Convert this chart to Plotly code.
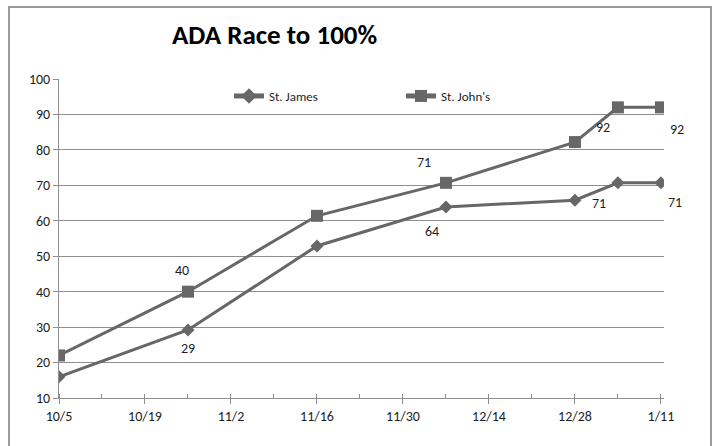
import plotly.graph_objects as go

# ---- data ----
dates = ["2009-10-05", "2009-10-26", "2009-11-16", "2009-12-07",
         "2009-12-28", "2010-01-04", "2010-01-11"]
st_james = [16, 29.2, 52.9, 63.9, 65.8, 70.7, 70.7]
st_johns = [22, 40, 61.4, 70.7, 82.2, 92, 92]
series_names = ["St. James", "St. John's"]
labeled_idx = [1, 3, 5, 6]
title_text = "ADA Race to 100%"

# ---- styling ----
W, H = 717, 446
L, T = 59, 79
R = W - 664
B = H - 398
FONT = "Carlito, Calibri, Lato, 'Open Sans', sans-serif"
LINE_COL = "#676767"
GRID_COL = "#8e8e8e"
TXT = "#1e1e1e"

fig = go.Figure()
fig.add_trace(go.Scatter(x=dates, y=st_james, name=series_names[0], mode="lines+markers",
                         line=dict(color=LINE_COL, width=3),
                         marker=dict(symbol="diamond", size=10, color=LINE_COL)))
fig.add_trace(go.Scatter(x=dates, y=st_johns, name=series_names[1], mode="lines+markers",
                         line=dict(color=LINE_COL, width=3),
                         marker=dict(symbol="square", size=12, color=LINE_COL)))

# data label offsets (pixels) for labeled points
james_shift = {1: (0, -19), 3: (-14, -25), 5: (-19, -21), 6: (14, -20)}
johns_shift = {1: (-6, 21), 3: (-22, 20), 5: (-15, -20), 6: (16, -22)}
ann = []
for i in labeled_idx:
    dx, dy = james_shift[i]
    ann.append(dict(x=dates[i], y=st_james[i], xref="x", yref="y", text=str(round(st_james[i])),
                    showarrow=False, xshift=dx, yshift=dy,
                    font=dict(family=FONT, size=14, color=TXT)))
    dx, dy = johns_shift[i]
    ann.append(dict(x=dates[i], y=st_johns[i], xref="x", yref="y", text=str(round(st_johns[i])),
                    showarrow=False, xshift=dx, yshift=dy,
                    font=dict(family=FONT, size=14, color=TXT)))

pw = W - L - R
ph = H - T - B
def px_x(p):
    return (p - L) / pw
def px_y(p):
    return (H - B - p) / ph

ann.append(dict(x=px_x(275), y=px_y(35), xref="paper", yref="paper", text="<b>" + title_text + "</b>",
                showarrow=False, xanchor="center", yanchor="middle",
                font=dict(family=FONT, size=27, color="#000000")))

fig.update_layout(
    width=W, height=H,
    margin=dict(l=L, r=R, t=T, b=B, pad=0),
    paper_bgcolor="white", plot_bgcolor="white",
    annotations=ann,
    showlegend=True,
    legend=dict(orientation="h", x=px_x(229), y=px_y(96), xanchor="left", yanchor="middle",
                font=dict(family=FONT, size=13, color=TXT),
                entrywidth=127, entrywidthmode="pixels", bgcolor="rgba(0,0,0,0)",
                itemsizing="constant", tracegroupgap=0),
    shapes=[dict(type="rect", xref="paper", yref="paper",
                 x0=px_x(9), x1=px_x(711), y0=px_y(470), y1=px_y(7),
                 line=dict(color="#9a9a9a", width=2), fillcolor="rgba(0,0,0,0)", layer="below")],
    xaxis=dict(type="date", range=["2009-10-05", "2010-01-11 12:00"],
               tick0="2009-10-05", dtick=14 * 86400000, tickformat="%-m/%-d",
               showgrid=False, zeroline=False,
               showline=True, linecolor=GRID_COL, linewidth=1,
               ticks="outside", ticklen=5, tickcolor=GRID_COL,
               minor=dict(dtick=7 * 86400000, tick0="2009-10-05", ticks="inside", ticklen=4,
                          tickcolor=GRID_COL, showgrid=False),
               tickfont=dict(family=FONT, size=14, color=TXT)),
    yaxis=dict(range=[10, 100], dtick=10, tick0=10,
               showgrid=True, gridcolor=GRID_COL, gridwidth=1,
               zeroline=False, showline=True, linecolor=GRID_COL, linewidth=1,
               ticks="outside", ticklen=5, tickcolor=GRID_COL,
               tickfont=dict(family=FONT, size=14, color=TXT)),
)

fig.write_html("out.html", config={"displayModeBar": False},
               post_script="document.documentElement.style.overflow='hidden';"
                           "document.body.style.margin='0';document.body.style.overflow='hidden';")
